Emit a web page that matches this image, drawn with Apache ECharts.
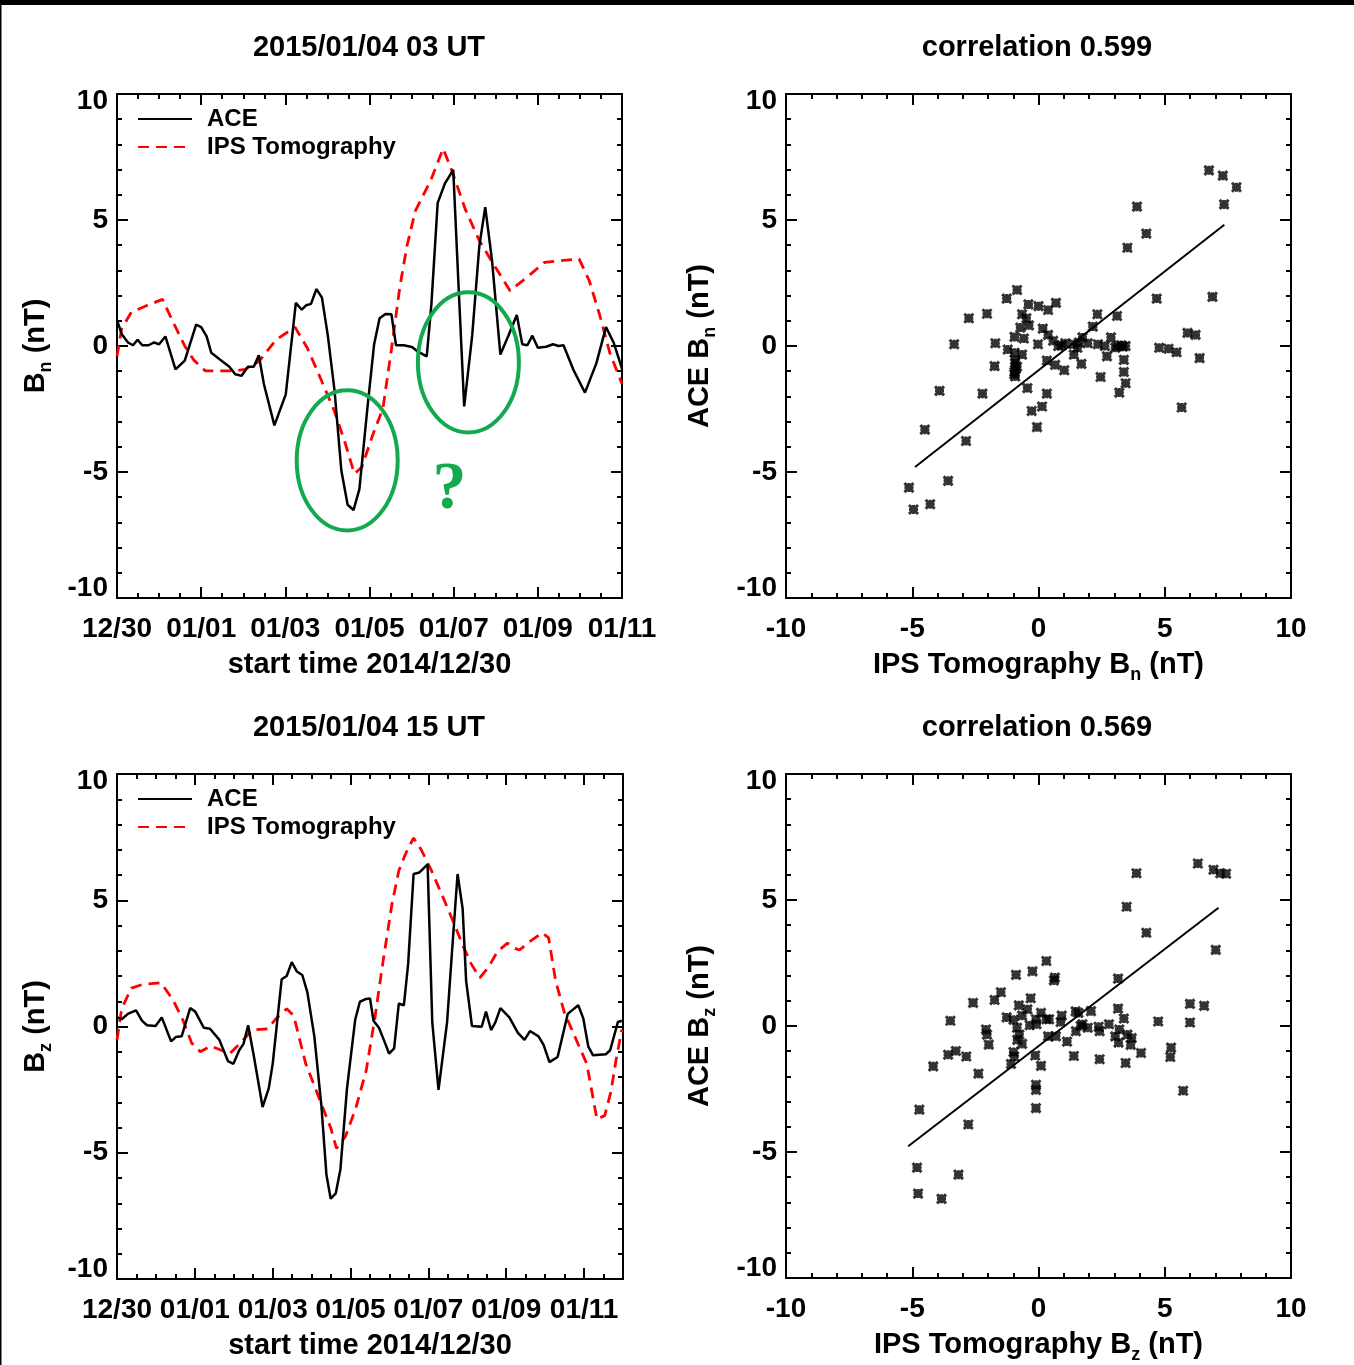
<!DOCTYPE html>
<html>
<head>
<meta charset="utf-8">
<script src="https://cdn.jsdelivr.net/npm/echarts@6/dist/echarts.min.js"></script>
<style>
html,body{margin:0;padding:0;background:#fff;}
#c{width:1354px;height:1365px;}
</style>
</head>
<body>
<div id="c"></div>
<script>
// ---------------- DATA ----------------
const tickDays = [0, 2, 4, 6, 8, 10, 12];
const tickLabels = ['12/30', '01/01', '01/03', '01/05', '01/07', '01/09', '01/11'];

// Top-left panel (Bn, 2015/01/04 03 UT), x = days since 2014/12/30
const aceTopDays = [0,0.11,0.26,0.38,0.49,0.6,0.75,0.88,1.0,1.15,1.39,1.61,1.88,2.0,2.13,2.24,2.43,2.67,2.81,2.96,3.11,3.25,3.37,3.49,3.74,4.01,4.25,4.39,4.5,4.61,4.74,4.87,5.01,5.17,5.33,5.48,5.62,5.76,5.95,6.11,6.24,6.38,6.52,6.63,6.81,7.01,7.13,7.36,7.47,7.62,7.79,7.99,8.11,8.25,8.44,8.61,8.75,8.91,9.11,9.3,9.5,9.63,9.75,9.87,10.0,10.2,10.36,10.49,10.61,10.85,11.12,11.39,11.62,11.8,12.0];
const aceTopVals = [1.03,0.48,0.14,0.03,0.25,0.03,0.03,0.14,0.07,0.38,-0.93,-0.58,0.85,0.75,0.38,-0.27,-0.52,-0.82,-1.12,-1.18,-0.82,-0.82,-0.37,-1.51,-3.15,-1.92,1.71,1.44,1.62,1.67,2.26,1.92,0.41,-1.78,-4.93,-6.3,-6.51,-5.68,-2.47,0.07,1.1,1.27,1.26,0.03,0.03,-0.04,-0.2,-0.41,1.64,5.68,6.44,6.99,2.6,-2.4,0.41,3.97,5.51,3.42,-0.34,0.41,1.23,0.07,0.03,0.41,-0.07,-0.03,0.07,0.0,0.03,-0.96,-1.85,-0.69,0.75,0.14,-0.9];
const ipsTopDays = [0,0.11,0.34,0.67,1.08,1.33,1.61,1.82,2.1,2.76,3.04,3.37,3.78,4.23,4.52,4.84,5.17,5.42,5.64,5.82,6.07,6.32,6.52,6.72,6.89,7.09,7.46,7.75,7.95,8.28,8.61,8.93,9.34,9.75,10.16,10.98,11.22,11.47,11.71,12.0];
const ipsTopVals = [-0.41,0.68,1.34,1.58,1.85,0.96,0.0,-0.55,-0.99,-0.99,-0.93,-0.62,0.25,0.75,-0.07,-1.3,-2.6,-3.84,-5.07,-4.8,-3.56,-2.47,-0.14,2.33,3.97,5.36,6.59,7.83,6.99,5.41,4.18,3.29,2.19,2.74,3.32,3.46,2.6,1.23,-0.27,-1.5];

// Bottom-left panel (Bz, 2015/01/04 15 UT)
const aceBotDays = [0,0.12,0.28,0.49,0.64,0.77,0.99,1.15,1.39,1.51,1.66,1.88,2.01,2.23,2.39,2.63,2.85,2.99,3.14,3.25,3.37,3.52,3.74,3.9,4.0,4.23,4.36,4.49,4.62,4.76,4.89,5.07,5.25,5.38,5.49,5.62,5.74,5.91,6.12,6.24,6.4,6.5,6.59,6.73,6.86,6.99,7.12,7.24,7.37,7.48,7.62,7.77,7.98,8.1,8.26,8.48,8.61,8.75,8.88,8.97,9.12,9.37,9.48,9.61,9.72,9.85,10.08,10.3,10.47,10.61,10.83,10.96,11.11,11.32,11.58,11.85,11.98,12.11,12.23,12.56,12.67,12.87,12.97];
const aceBotVals = [0.36,0.29,0.5,0.64,0.23,0.05,0.02,0.36,-0.59,-0.42,-0.39,0.73,0.59,-0.05,-0.09,-0.53,-1.37,-1.48,-0.94,-0.69,0.05,-1.21,-3.19,-2.44,-1.48,1.87,2.0,2.55,2.18,2.04,1.36,-0.39,-3.12,-5.86,-6.82,-6.61,-5.65,-2.44,0.27,0.98,1.09,1.11,0.23,-0.05,-0.55,-1.07,-0.87,0.91,0.84,2.48,6.04,6.1,6.42,0.16,-2.51,0.16,3.03,6.04,4.67,1.8,0.02,-0.01,0.59,-0.14,0.16,0.73,0.36,-0.25,-0.53,-0.18,-0.39,-0.73,-1.41,-1.21,0.5,0.84,0.32,-0.8,-1.14,-1.1,-0.94,0.18,0.23];
const ipsBotDays = [0,0.12,0.37,0.64,1.13,1.44,1.7,1.92,2.14,2.41,2.68,2.9,3.21,3.47,3.87,4.09,4.36,4.54,4.85,5.25,5.49,5.64,5.87,6.13,6.4,6.62,6.84,7.06,7.24,7.42,7.62,7.82,8.08,8.35,8.61,8.88,9.1,9.32,9.54,9.77,10.03,10.21,10.34,10.61,10.92,11.09,11.27,11.49,11.8,12.07,12.33,12.53,12.69,12.82,12.97];
const ipsBotVals = [-0.53,0.7,1.52,1.66,1.73,1.05,0.23,-0.66,-1.0,-0.77,-0.94,-1.07,-0.59,-0.14,-0.09,0.32,0.7,0.43,-1.48,-3.06,-4.01,-4.83,-4.35,-3.26,-1.76,0.29,2.62,4.81,6.17,6.86,7.47,6.99,6.17,5.21,4.26,3.23,2.48,1.93,2.34,2.96,3.3,3.1,3.03,3.37,3.71,3.51,1.8,0.57,-0.53,-1.48,-3.67,-3.53,-2.58,-1.34,-0.12];

// Top-right scatter: IPS Bn (x) vs ACE Bn (y)
const scatTopIps = [6.75,7.3,7.84,7.35,3.9,4.27,3.52,4.68,6.89,-0.85,-1.26,-0.4,0.0,0.69,0.38,-2.04,-2.76,-0.65,-0.48,-0.38,-0.72,0.17,2.33,3.11,2.15,-0.95,-0.58,0.38,0.58,-3.34,-1.71,-0.02,0.78,1.06,1.4,1.6,1.74,1.54,2.35,2.63,2.87,3.04,3.28,3.45,4.78,5.15,5.47,5.9,6.22,6.38,-1.22,-0.95,-0.65,-0.92,-0.85,-0.95,-0.92,-1.74,1.4,1.7,0.66,1.02,0.33,2.71,2.46,3.38,3.38,3.45,3.2,-0.44,0.33,-2.22,-3.92,0.14,-0.27,-0.06,5.67,-4.5,-2.87,-3.58,-5.13,-4.95,-4.29,3.11,3.34,1.95,0.92,-0.93,-0.9,-0.96];
const scatTopAce = [6.97,6.76,6.3,5.62,5.53,4.46,3.9,1.88,1.95,2.22,1.88,1.65,1.58,1.71,1.43,1.28,1.1,1.26,1.1,0.82,0.73,0.69,1.26,1.19,0.77,0.36,0.3,0.44,0.21,0.07,0.11,0.07,0.0,0.11,0.07,0.14,0.34,-0.07,0.07,0.0,0.34,-0.07,0.03,0.0,-0.07,-0.11,-0.25,0.52,0.44,-0.48,-0.14,-0.27,-0.34,-0.55,-0.82,-1.03,-1.21,-0.8,-0.34,-0.71,-0.75,-0.96,-0.58,-0.41,-1.23,-0.55,-1.03,-1.48,-1.85,-1.67,-1.89,-1.89,-1.78,-2.4,-2.58,-3.22,-2.44,-3.32,-3.77,-5.35,-5.62,-6.49,-6.28,0.0,-0.03,0.11,0.03,-0.68,-0.9,-1.12];
const fitTopX = [-4.89, 7.36];
const fitTopY = [-4.8, 4.81];

// Bottom-right scatter: IPS Bz (x) vs ACE Bz (y)
const scatBotIps = [6.31,6.93,7.2,7.43,3.88,3.49,4.27,7.02,0.31,-0.24,-0.89,0.65,0.61,3.15,-1.49,-1.74,-2.59,-0.31,-0.78,-0.44,-1.26,-0.99,-0.65,-0.35,-0.08,-0.1,0.1,0.31,0.42,0.92,0.88,1.47,1.58,2.08,1.74,1.67,1.95,2.38,2.79,3.15,3.38,-3.49,4.74,6.0,6.56,6.0,1.48,2.42,3.04,3.17,3.52,3.69,3.65,3.2,0.38,0.69,1.13,-0.85,-0.76,-0.84,-0.65,-2.08,-2.04,-1.97,-3.27,-3.58,-2.86,-0.99,-0.96,-1.09,-0.13,0.1,1.4,2.42,3.45,4.06,5.25,5.22,-4.17,-2.38,-0.1,-0.1,5.73,-4.72,-0.1,-2.78,-4.81,-3.17,-4.77,-3.84];
const scatBotAce = [6.45,6.2,6.06,6.04,6.06,4.73,3.7,3.02,2.58,2.17,2.03,1.92,1.81,1.88,1.34,1.03,0.92,1.1,0.82,0.66,0.34,0.25,0.41,0.03,0.07,0.27,0.52,0.27,0.27,0.41,0.16,0.58,0.52,0.59,0.07,0.0,-0.07,-0.03,0.07,0.69,0.3,0.21,0.18,0.88,0.8,0.14,-0.21,-0.21,-0.41,-0.66,-0.34,-0.48,-0.75,-0.14,-0.41,-0.41,-0.62,-0.07,-0.34,-0.55,-0.71,-0.14,-0.34,-0.74,-0.99,-1.14,-1.21,-1.03,-1.21,-1.51,-1.17,-1.58,-1.19,-1.32,-1.47,-1.07,-0.86,-1.23,-1.6,-1.89,-2.33,-2.54,-2.57,-3.32,-3.26,-3.91,-5.62,-5.9,-6.65,-6.86];
const fitBotX = [-5.16, 7.13];
const fitBotY = [-4.77, 4.69];

// Annotations in the top-left panel (data coordinates)
const ellipseCentersDay = [5.47, 8.35];
const ellipseCentersVal = [-4.54, -0.65];
const ellipseRadiusDay = 1.2;
const ellipseRadiusVal = 2.78;
const questionMark = [7.9, -5.72];

// ---------------- CHART ----------------
const FONT = '"Liberation Sans","Helvetica","Arial",sans-serif';
const GREEN = '#14a94f';
const chart = echarts.init(document.getElementById('c'));

const grids = [
  {left: 117, top: 94, width: 505, height: 504},
  {left: 786, top: 94, width: 505, height: 504},
  {left: 117, top: 774, width: 506, height: 505},
  {left: 786, top: 774, width: 505, height: 505}
];

const labelStyle = {fontFamily: FONT, fontSize: 28, fontWeight: 'bold', color: '#000'};
const tokenFont = {fontFamily: FONT, fontSize: 28, fontWeight: 'bold', color: '#000'};
const yLabelRich = {
  hi: Object.assign({padding: [15, 0, 0, 0]}, tokenFont),
  lo: Object.assign({padding: [0, 0, 20, 0]}, tokenFont)
};
const richName = {
  t: {fontFamily: FONT, fontSize: 29, fontWeight: 'bold', color: '#000'},
  s: {fontFamily: FONT, fontSize: 18, fontWeight: 'bold', color: '#000', padding: [20, 0, 0, 0]}
};

const xAxes = [], yAxes = [];
const mainX = [], mainY = [];

function dayLabel(v) {
  const i = tickDays.indexOf(v);
  return i >= 0 ? tickLabels[i] : '';
}
const numFmt = v => String(v);
function yFmt(v) {
  if (v === 10) return '{hi|10}';
  if (v === -10) return '{lo|-10}';
  return String(v);
}

function addAxes(list, mainList, gi, dim, cfg) {
  const posA = dim === 'x' ? 'bottom' : 'left';
  const posB = dim === 'x' ? 'top' : 'right';
  const base = {type: 'value', gridIndex: gi, min: cfg.min, max: cfg.max, splitLine: {show: false}, silent: true};
  mainList.push(list.length);
  const lbl = Object.assign({show: true, margin: dim === 'x' ? 17 : 9, showMinLabel: true, showMaxLabel: true,
      hideOverlap: false, interval: 0, formatter: cfg.fmt}, labelStyle);
  if (dim === 'y') lbl.rich = yLabelRich;
  list.push(Object.assign({}, base, {
    position: posA, interval: cfg.major,
    axisLine: {show: true, onZero: false, lineStyle: {color: '#000', width: 2}},
    axisTick: {show: true, inside: true, length: 11, lineStyle: {color: '#000', width: 2}},
    axisLabel: lbl,
    name: cfg.name, nameLocation: 'middle', nameGap: cfg.nameGap,
    nameTextStyle: {rich: richName}
  }));
  list.push(Object.assign({}, base, {
    position: posA, interval: cfg.minor,
    axisLine: {show: false, onZero: false},
    axisTick: {show: true, inside: true, length: 5, lineStyle: {color: '#000', width: 2}},
    axisLabel: {show: false}
  }));
  list.push(Object.assign({}, base, {
    position: posB, interval: cfg.major,
    axisLine: {show: true, onZero: false, lineStyle: {color: '#000', width: 2}},
    axisTick: {show: true, inside: true, length: 11, lineStyle: {color: '#000', width: 2}},
    axisLabel: {show: false}
  }));
  list.push(Object.assign({}, base, {
    position: posB, interval: cfg.minor,
    axisLine: {show: false, onZero: false},
    axisTick: {show: true, inside: true, length: 5, lineStyle: {color: '#000', width: 2}},
    axisLabel: {show: false}
  }));
}

addAxes(xAxes, mainX, 0, 'x', {min: 0, max: 12, major: 2, minor: 0.5, fmt: dayLabel,
  name: '{t|start time 2014/12/30}', nameGap: 52});
addAxes(yAxes, mainY, 0, 'y', {min: -10, max: 10, major: 5, minor: 1, fmt: yFmt,
  name: '{t|B}{s|n}{t| (nT)}', nameGap: 62});
addAxes(xAxes, mainX, 1, 'x', {min: -10, max: 10, major: 5, minor: 1, fmt: numFmt,
  name: '{t|IPS Tomography B}{s|n}{t| (nT)}', nameGap: 48});
addAxes(yAxes, mainY, 1, 'y', {min: -10, max: 10, major: 5, minor: 1, fmt: yFmt,
  name: '{t|ACE B}{s|n}{t| (nT)}', nameGap: 67});
addAxes(xAxes, mainX, 2, 'x', {min: 0, max: 13, major: 2, minor: 0.5, fmt: dayLabel,
  name: '{t|start time 2014/12/30}', nameGap: 52});
addAxes(yAxes, mainY, 2, 'y', {min: -10, max: 10, major: 5, minor: 1, fmt: yFmt,
  name: '{t|B}{s|z}{t| (nT)}', nameGap: 62});
addAxes(xAxes, mainX, 3, 'x', {min: -10, max: 10, major: 5, minor: 1, fmt: numFmt,
  name: '{t|IPS Tomography B}{s|z}{t| (nT)}', nameGap: 48});
addAxes(yAxes, mainY, 3, 'y', {min: -10, max: 10, major: 5, minor: 1, fmt: yFmt,
  name: '{t|ACE B}{s|z}{t| (nT)}', nameGap: 67});

const zip = (a, b) => a.map((v, i) => [v, b[i]]);
const aceStyle = {color: '#000', width: 2.5};
const ipsStyle = {color: '#ff0000', width: 2.8, type: [11, 7]};
const crossSymbol = 'path://M0,0L10,10M10,0L0,10M5,0L5,10M0,5L10,5';

function lineSeries(name, gi, data, style) {
  return {type: 'line', name: name, xAxisIndex: mainX[gi], yAxisIndex: mainY[gi], data: data,
    symbol: 'none', showSymbol: false, lineStyle: style, itemStyle: {color: style.color},
    animation: false, silent: true, z: name === 'ACE' ? 3 : 2};
}
function scatterSeries(gi, data) {
  return {type: 'scatter', xAxisIndex: mainX[gi], yAxisIndex: mainY[gi], data: data,
    symbol: crossSymbol, symbolSize: 9,
    itemStyle: {color: '#000', borderColor: '#000', borderWidth: 3}, animation: false, silent: true};
}
function fitSeries(gi, xs, ys) {
  return {type: 'line', xAxisIndex: mainX[gi], yAxisIndex: mainY[gi], data: zip(xs, ys),
    symbol: 'none', lineStyle: {color: '#000', width: 2}, animation: false, silent: true};
}

const legendBase = {
  data: ['ACE', 'IPS Tomography'], orient: 'vertical', left: 137, padding: 0,
  itemWidth: 54, itemHeight: 14, itemGap: 0, selectedMode: false,
  itemStyle: {opacity: 0},
  textStyle: {fontFamily: FONT, fontSize: 24, fontWeight: 'bold', color: '#000', lineHeight: 28, padding: [0, 0, 0, 10]}
};

const titleStyle = {fontFamily: FONT, fontSize: 29, fontWeight: 'bold', color: '#000'};
const option = {
  backgroundColor: '#fff',
  animation: false,
  title: [
    {text: '2015/01/04 03 UT', left: 369, top: 33, padding: 0, textAlign: 'center', textStyle: titleStyle},
    {text: 'correlation 0.599', left: 1037, top: 33, padding: 0, textAlign: 'center', textStyle: titleStyle},
    {text: '2015/01/04 15 UT', left: 369, top: 713, padding: 0, textAlign: 'center', textStyle: titleStyle},
    {text: 'correlation 0.569', left: 1037, top: 713, padding: 0, textAlign: 'center', textStyle: titleStyle}
  ],
  legend: [
    Object.assign({}, legendBase, {top: 105}),
    Object.assign({}, legendBase, {top: 785})
  ],
  grid: grids.map(g => Object.assign({containLabel: false}, g)),
  xAxis: xAxes,
  yAxis: yAxes,
  series: [
    lineSeries('IPS Tomography', 0, zip(ipsTopDays, ipsTopVals), ipsStyle),
    lineSeries('ACE', 0, zip(aceTopDays, aceTopVals), aceStyle),
    scatterSeries(1, zip(scatTopIps, scatTopAce)),
    fitSeries(1, fitTopX, fitTopY),
    lineSeries('IPS Tomography', 2, zip(ipsBotDays, ipsBotVals), ipsStyle),
    lineSeries('ACE', 2, zip(aceBotDays, aceBotVals), aceStyle),
    scatterSeries(3, zip(scatBotIps, scatBotAce)),
    fitSeries(3, fitBotX, fitBotY)
  ]
};
chart.setOption(option);

const gfx = [
  {type: 'rect', shape: {x: 0, y: 0, width: 1354, height: 5}, style: {fill: '#000'}, z: 100},
  {type: 'rect', shape: {x: 0, y: 0, width: 1.5, height: 1365}, style: {fill: '#000'}, z: 100}
];
for (let i = 0; i < ellipseCentersDay.length; i++) {
  const c = chart.convertToPixel({gridIndex: 0}, [ellipseCentersDay[i], ellipseCentersVal[i]]);
  const e = chart.convertToPixel({gridIndex: 0}, [ellipseCentersDay[i] + ellipseRadiusDay, ellipseCentersVal[i] + ellipseRadiusVal]);
  gfx.push({type: 'ellipse', shape: {cx: c[0], cy: c[1], rx: Math.abs(e[0] - c[0]), ry: Math.abs(e[1] - c[1])},
    style: {fill: 'none', stroke: GREEN, lineWidth: 4}, z: 50});
}
const q = chart.convertToPixel({gridIndex: 0}, questionMark);
gfx.push({type: 'text', x: q[0], y: q[1], style: {text: '?', fill: GREEN, font: 'bold 68px "Liberation Serif","DejaVu Serif",serif',
  textAlign: 'center', textVerticalAlign: 'middle'}, z: 50});
chart.setOption({graphic: gfx});
</script>
</body>
</html>
